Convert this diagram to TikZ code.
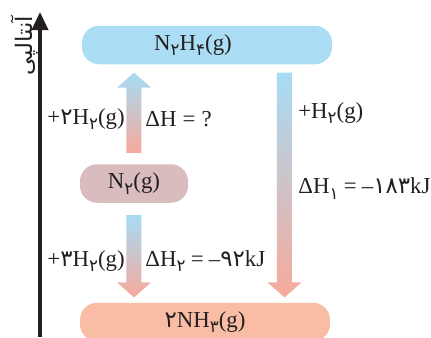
\documentclass[tikz,border=0pt]{standalone}
\usepackage{fontspec}
\setmainfont{Liberation Serif}
\newfontfamily\fafont[Script=Arabic]{DejaVu Sans}
\usepackage{tikz}
\usetikzlibrary{positioning, arrows.meta, calc}
\TeXXeTstate=1
\definecolor{enth-blue}{HTML}{ABDDF5}
\definecolor{enth-mauve}{HTML}{D8BCBE}
\definecolor{enth-salmon}{HTML}{F9BDA6}
\definecolor{arr-blue}{HTML}{A6DCF5}
\definecolor{arr-pink}{HTML}{F7A99B}
\definecolor{enth-ink}{HTML}{231F20}

% persian digits, inline and as subscript
\newcommand{\fa}[1]{{\fafont #1}}
\newcommand{\chsub}[1]{\raisebox{-0.5ex}{\fontsize{9.5}{10}\selectfont\fafont #1}}

% broad shaded arrow: start, tip, top colour, bottom colour
\newcommand{\fatarrow}[4]{%
  \coordinate (hb) at ($(#2)!0.3cm!(#1)$);
  \shade[top color=#3, bottom color=#4]
    ([xshift=-0.15cm]#1) -- ([xshift=-0.15cm]hb) -- ([xshift=-0.34cm]hb) -- (#2)
    -- ([xshift=0.34cm]hb) -- ([xshift=0.15cm]hb) -- ([xshift=0.15cm]#1) -- cycle;}

\begin{document}
\begin{tikzpicture}[
    level/.style={rounded corners=0.34cm, minimum height=0.77cm, text=enth-ink,
                  font=\fontsize{13}{15}\selectfont},
    lbl/.style={inner sep=0pt, text=enth-ink, font=\fontsize{13}{15}\selectfont},
    axis/.style={line width=2pt, enth-ink, -{Triangle[length=0.36cm, width=0.32cm]}},
]
    \useasboundingbox (0,0) rectangle (8.62,6.74);

    % Enthalpy axis
    \coordinate (ax0) at (0.80,0);
    \coordinate (ax1) at (0.80,6.50);
    \draw[axis] (ax0) -- (ax1);
    \node[rotate=90, inner sep=0pt, text=enth-ink] (axlbl) at (0.50,5.82)
        {\fafont\fontsize{13}{15}\selectfont\beginR آنتالپی\endR};

    % Levels
    \node[level, fill=enth-blue, minimum width=5.0cm] (n2h4) at (4.14,5.84)
        {N\chsub{۲}H\chsub{۴}(g)\hspace*{0.56cm}};
    \node[level, fill=enth-mauve, minimum width=2.16cm] (n2) at (2.68,3.07)
        {N\chsub{۲}(g)};
    \node[level, fill=enth-salmon, minimum width=5.0cm] (nh3) at (4.10,0.30)
        {\fa{۲}NH\chsub{۳}(g)};

    % Arrows
    \coordinate (ua) at ($(n2.north)+(0,0.22)$);
    \coordinate (ub) at ($(ua |- n2h4.south)+(0,-0.16)$);
    \fatarrow{ua}{ub}{arr-blue}{arr-pink}

    \coordinate (da) at ($(n2.south)+(0,-0.24)$);
    \coordinate (db) at ($(da |- nh3.north)+(0,0.10)$);
    \fatarrow{da}{db}{arr-blue}{arr-pink}

    \coordinate (ra) at ($(n2h4.south)+(1.55,-0.16)$);
    \coordinate (rb) at ($(ra |- nh3.north)+(0,0.10)$);
    \fatarrow{ra}{rb}{arr-blue}{arr-pink}

    % Labels
    \node[lbl, anchor=east] (l1) at (2.50,4.36) {+\fa{۲}H\chsub{۲}(g)};
    \node[lbl, anchor=west] (l2) at (2.90,4.36) {ΔH\hspace{3.5pt}=\hspace{3.5pt}?};
    \node[lbl, anchor=east] (l3) at (2.50,1.52) {+\fa{۳}H\chsub{۲}(g)};
    \node[lbl, anchor=west] (l4) at (2.90,1.52) {ΔH\chsub{۲}\hspace{3pt}=\hspace{3pt}–\fa{۹۲}kJ};
    \node[lbl, anchor=west] (l5) at (5.96,4.48) {+H\chsub{۲}(g)};
    \node[lbl, anchor=west] (l6) at (5.96,2.97) {ΔH\chsub{۱}\hspace{3pt}=\hspace{3pt}–\fa{۱۸۳}kJ};
\end{tikzpicture}
\end{document}
